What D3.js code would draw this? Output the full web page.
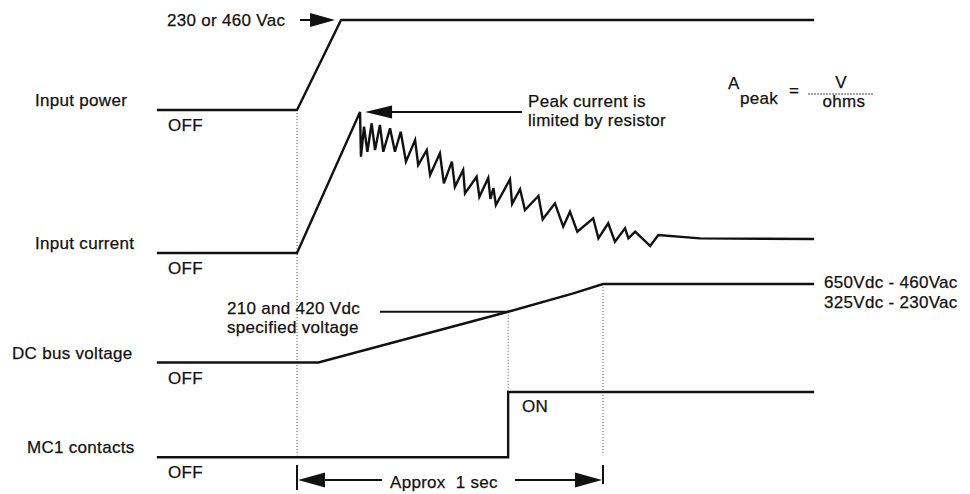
<!DOCTYPE html>
<html>
<head>
<meta charset="utf-8">
<script src="https://cdn.jsdelivr.net/npm/d3@7"></script>
<style>
  html, body { margin: 0; padding: 0; background: #fff; }
  svg { display: block; font-family: "Liberation Sans", Arial, Helvetica, sans-serif; }
  text { font-size: 17px; letter-spacing: 0.3px; fill: #111; stroke: #111; stroke-width: 0.25px; }
  .sig { fill: none; stroke: #111; stroke-width: 2.4; stroke-linejoin: miter; }
  .guide { stroke: #555; stroke-width: 1; stroke-dasharray: 1,2; }
  .solid { stroke: #111; stroke-width: 2; }
</style>
</head>
<body>
<svg id="chart" width="970" height="494"></svg>
<script>
// Time is in 1/100 sec, 0 = power applied.
var ROW_LABELS = ['Input power', 'Input current', 'DC bus voltage', 'MC1 contacts'];

var powerTime  = [-45.8, 0, 14.4, 169];
var powerState = [0, 0, 1, 1];

// input current, % of peak
var currentTime = [-45.8, 0, 20.6, 20.9, 21.9, 23.0, 24.4, 25.5, 27.1, 28.2, 30.4, 32.0,
  33.9, 35.6, 38.6, 39.6, 42.4, 43.5, 46.7, 48.0, 50.6, 51.6, 54.3, 54.9, 58.7, 59.6,
  62.5, 63.2, 64.2, 65.0, 69.6, 70.3, 72.9, 74.5, 78.9, 80.3, 84.3, 87.0, 89.2, 91.6,
  96.8, 98.5, 101.7, 103.9, 107.2, 108.3, 110.5, 115.4, 118.1, 131.7, 169];
var currentPct = [0, 0, 100, 68.3, 89.6, 71.8, 92.0, 73.0, 90.8, 71.8, 88.4, 71.8,
  86.0, 64.8, 80.1, 62.4, 73.0, 55.3, 70.7, 49.4, 64.8, 47.0, 58.9, 42.3, 54.1, 39.9,
  53.2, 38.3, 46.1, 34.0, 52.3, 34.8, 45.2, 30.5, 40.4, 23.9, 35.2, 18.7, 29.3, 15.1,
  24.6, 10.4, 21.1, 8.0, 17.5, 10.4, 15.1, 5.0, 12.8, 10.4, 9.9];

var busTime  = [-45.8, 7, 69, 90.3, 100, 169];
var busVolts = [0, 0, 420, 573, 650, 650];

var mc1Time  = [-45.8, 69, 69, 169];
var mc1State = [0, 0, 1, 1];

var SPEC_VOLTS = 420;
var FINAL_LABELS = ['650Vdc - 460Vac', '325Vdc - 230Vac'];


var svg = d3.select('#chart');

var x = d3.scaleLinear().domain([0, 100]).range([297, 603]);

var yPower   = d3.scaleLinear().domain([0, 1]).range([110, 20]);
var yCurrent = d3.scaleLinear().domain([0, 100]).range([253, 112]);
var yBus     = d3.scaleLinear().domain([0, 650]).range([362.5, 284]);
var yMc1     = d3.scaleLinear().domain([0, 1]).range([457.3, 392]);

var rows = [
  {t: powerTime, v: powerState, y: yPower, lx: 35},
  {t: currentTime, v: currentPct, y: yCurrent, lx: 35},
  {t: busTime, v: busVolts, y: yBus, lx: 12},
  {t: mc1Time, v: mc1State, y: yMc1, lx: 27}
];

// guide lines (dotted)
var mc1Step = mc1Time[1];
var guides = [
  {t: 0, y0: yPower(0), y1: yMc1(0) - 2},
  {t: mc1Step, y0: yBus(SPEC_VOLTS), y1: yMc1(1)},
  {t: 100, y0: yBus(650), y1: yMc1(0) - 2}
];
svg.selectAll('.guide').data(guides)
  .enter().append('line')
  .classed('guide', true)
  .attr('x1', function(d) { return x(d.t); })
  .attr('x2', function(d) { return x(d.t); })
  .attr('y1', function(d) { return d.y0; })
  .attr('y2', function(d) { return d.y1; });

// signals
rows.forEach(function(r, i) {
  var line = d3.line()
    .x(function(d) { return x(d[0]); })
    .y(function(d) { return r.y(d[1]); });
  svg.append('path')
    .classed('sig', true)
    .attr('d', line(d3.zip(r.t, r.v)));

  svg.append('text')
    .attr('x', r.lx)
    .attr('y', r.y(0) - 4)
    .text(ROW_LABELS[i]);
  svg.append('text')
    .attr('x', 168)
    .attr('y', r.y(0) + 21)
    .text('OFF');
});

var arrowHead = function(tipX, tipY, dir, len, half) {
  svg.append('path')
    .attr('d', 'M' + tipX + ',' + tipY +
      'L' + (tipX - dir * len) + ',' + (tipY - half) +
      'L' + (tipX - dir * len) + ',' + (tipY + half) + 'Z')
    .attr('fill', '#111');
};

var hLine = function(x1, x2, y, w) {
  svg.append('line').classed('solid', true)
    .attr('x1', x1).attr('x2', x2).attr('y1', y).attr('y2', y)
    .style('stroke-width', w || 2);
};

// 230 or 460 Vac
svg.append('text').attr('x', 167).attr('y', 26).text('230 or 460 Vac');
var topY = yPower(1);
hLine(300, 318, topY);
arrowHead(x(powerTime[2]) - 6, topY, 1, 25, 7);

// peak current arrow
var peakY = yCurrent(100);
var peakX = x(currentTime[2]);
hLine(388, 522, peakY);
arrowHead(peakX + 5, peakY, -1, 27, 6.5);
svg.append('text').attr('x', 528).attr('y', 107).text('Peak current is');
svg.append('text').attr('x', 528).attr('y', 126).text('limited by resistor');

// A peak = V / ohms
svg.append('text').attr('x', 728).attr('y', 89).text('A');
svg.append('text').attr('x', 740).attr('y', 104).text('peak');
svg.append('text').attr('x', 789).attr('y', 96).text('=');
svg.append('line').attr('x1', 808).attr('x2', 873).attr('y1', 94).attr('y2', 94)
  .attr('stroke', '#444').attr('stroke-width', 1).attr('stroke-dasharray', '2,1');
svg.append('text').attr('x', 841).attr('y', 88).attr('text-anchor', 'middle').text('V');
svg.append('text').attr('x', 844).attr('y', 107).attr('text-anchor', 'middle').text('ohms');

// specified voltage
var specY = yBus(SPEC_VOLTS);
hLine(380, x(mc1Step), specY);
svg.append('text').attr('x', 227).attr('y', 314).text('210 and 420 Vdc');
svg.append('text').attr('x', 227).attr('y', 333).text('specified voltage');

// final bus voltage
svg.selectAll('.final').data(FINAL_LABELS)
  .enter().append('text')
  .classed('final', true)
  .attr('x', 824)
  .attr('y', function(d, i) { return 288 + i * 20; })
  .text(function(d) { return d; });

// ON
svg.append('text').attr('x', 522).attr('y', 412).text('ON');

// approx 1 sec bracket
var brY = 480;
svg.append('line').classed('solid', true)
  .attr('x1', x(0)).attr('x2', x(0)).attr('y1', 465).attr('y2', 490);
svg.append('line').classed('solid', true)
  .attr('x1', x(100)).attr('x2', x(100)).attr('y1', 465).attr('y2', 484);
arrowHead(x(0) + 1, brY, -1, 27, 7.5);
arrowHead(x(100) - 1, brY, 1, 27, 7.5);
hLine(x(0) + 27, 382, brY);
hLine(515, x(100) - 27, brY);
svg.append('text').attr('x', 390).attr('y', 488)
  .style('white-space', 'pre')
  .text('Approx  1 sec');
</script>
</body>
</html>
